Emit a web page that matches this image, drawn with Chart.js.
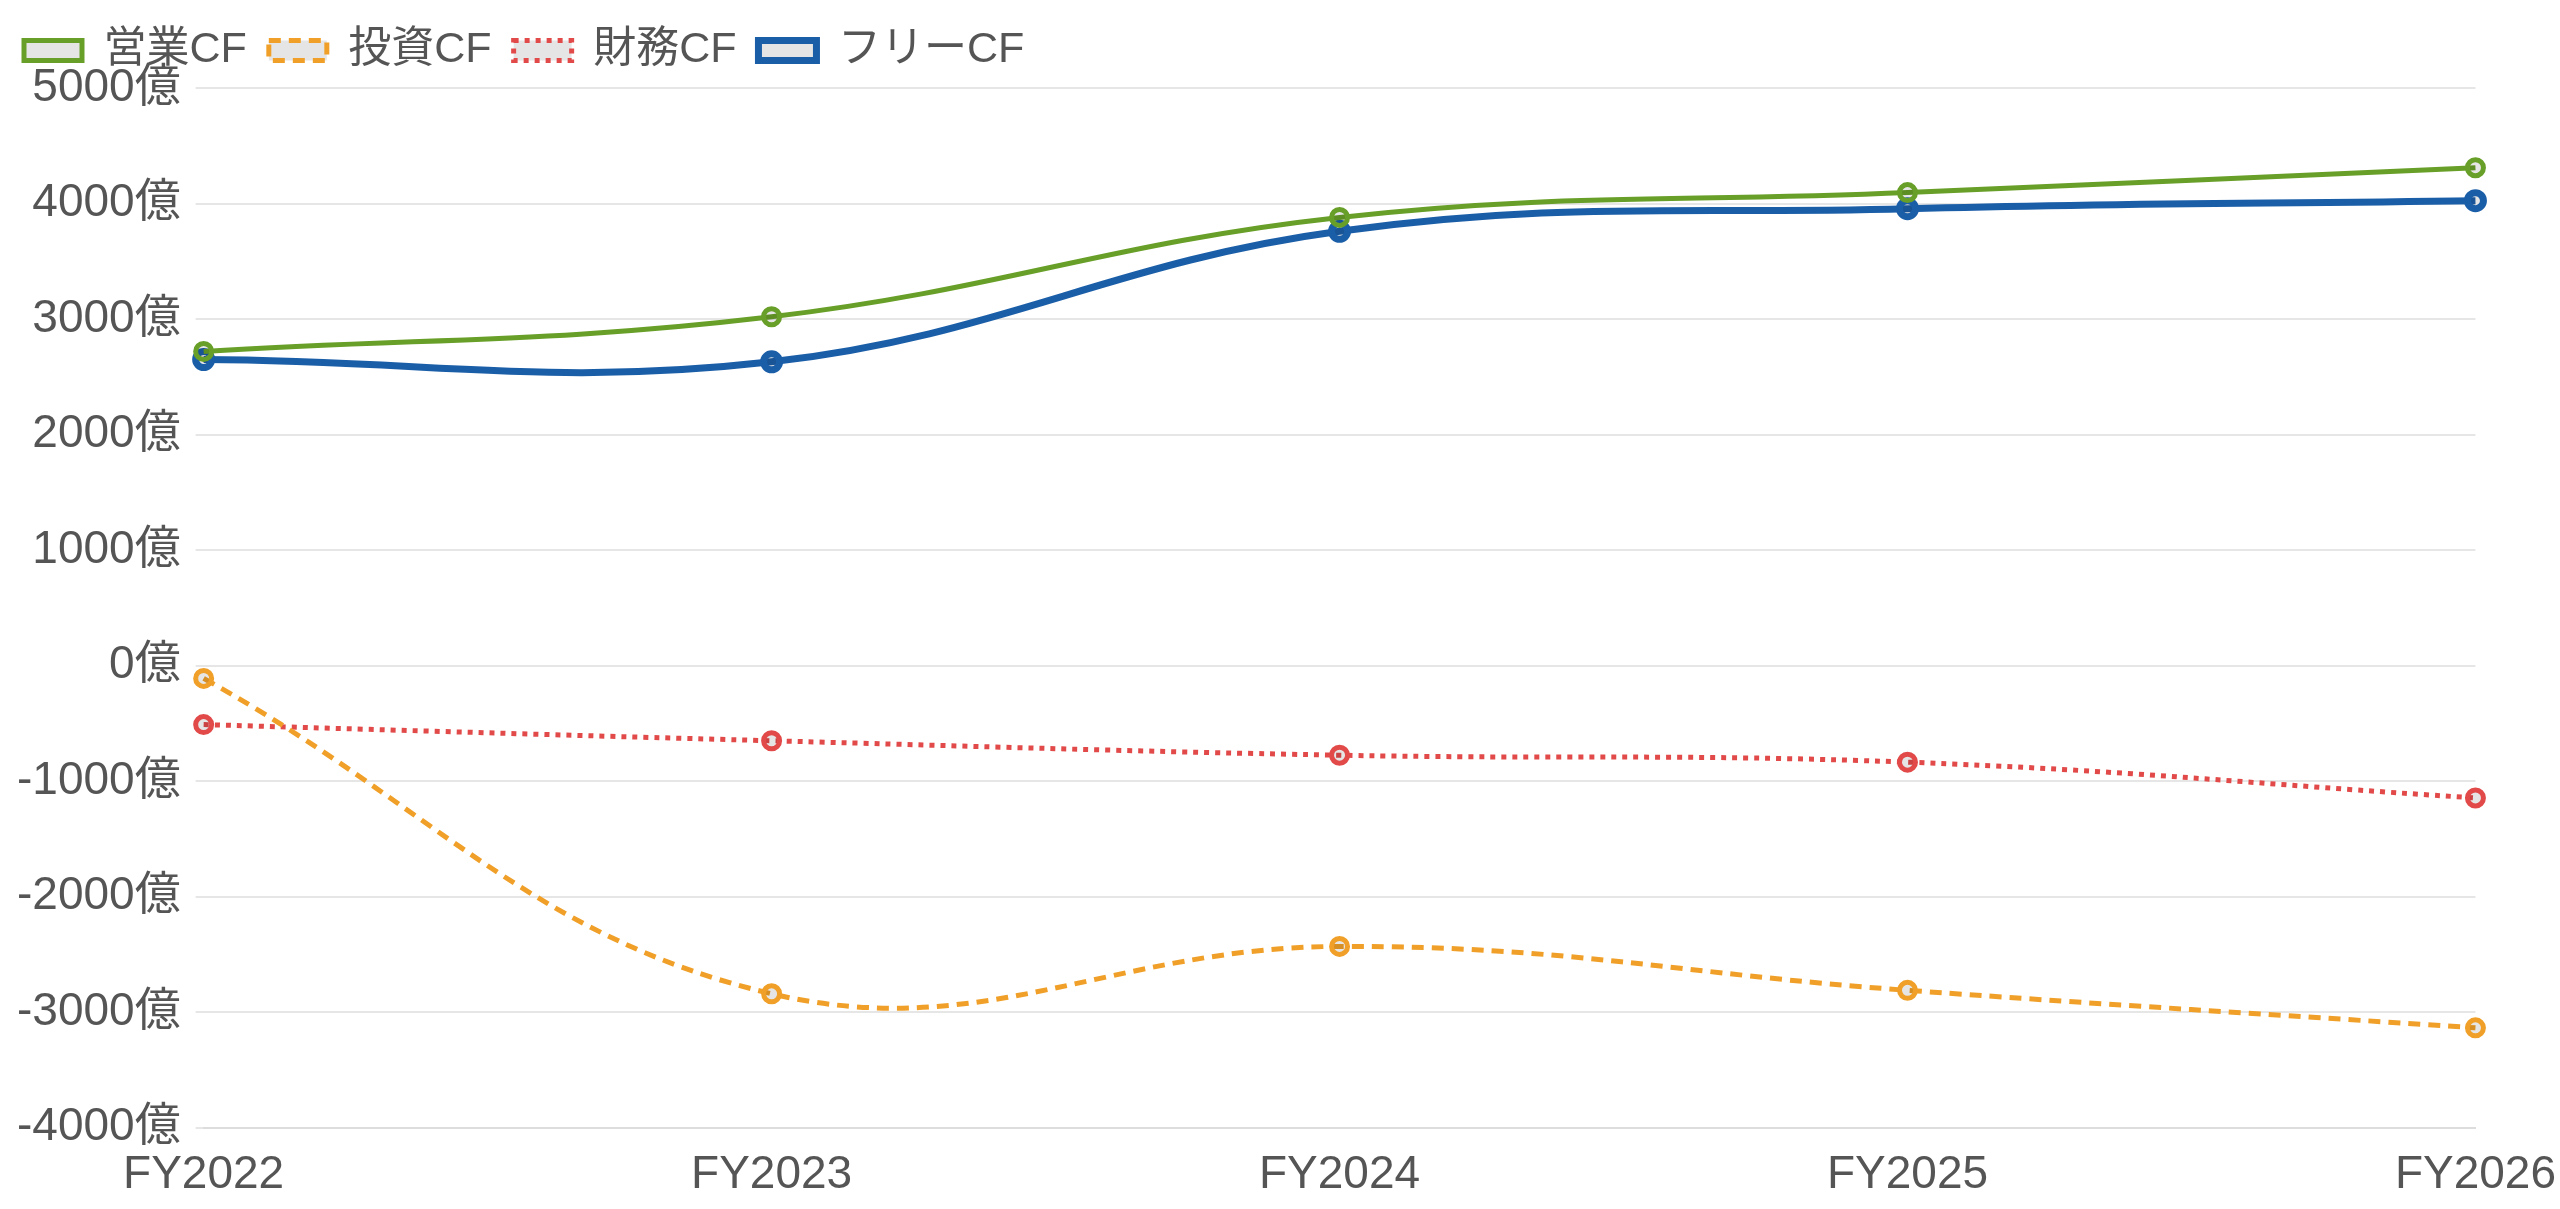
<!DOCTYPE html>
<html lang="ja">
<head>
<meta charset="utf-8">
<title>キャッシュフロー推移</title>
<script src="https://cdn.jsdelivr.net/npm/chart.js@4.4.1/dist/chart.umd.min.js"></script>
<style>
  html, body { margin: 0; padding: 0; background: #fff; }
  #wrap { width: 2560px; height: 1209px; position: relative; }
</style>
</head>
<body>
<div id="wrap"><canvas id="cfChart"></canvas></div>
<script>
// data (単位: 億円)
const years = ["FY2022", "FY2023", "FY2024", "FY2025", "FY2026"];
const operatingCF = [2720, 3020, 3880, 4095, 4310];
const investingCF = [-110, -2840, -2430, -2810, -3135];
const financingCF = [-510, -650, -775, -835, -1145];
const freeCF = [2650, 2630, 3760, 3955, 4025];
const yTicks = { min: -4000, max: 5000, step: 1000 };

const fontFamily = "'Helvetica Neue', Arial, 'Liberation Sans', 'Noto Sans CJK JP', sans-serif";
Chart.defaults.font.family = fontFamily;
Chart.defaults.font.size = 46;
Chart.defaults.color = "#555";

// a bit more room under the legend
const legendGap = {
  id: "legendGap",
  beforeInit(chart) {
    const origFit = chart.legend.fit;
    chart.legend.fit = function fit() {
      origFit.bind(chart.legend)();
      this.height += 6;
    };
  },
};

const ctx = document.getElementById("cfChart").getContext("2d");

new Chart(ctx, {
  type: "line",
  data: {
    labels: years,
    datasets: [
      {
        label: "営業CF",
        data: operatingCF,
        borderColor: "#689f28",
        borderWidth: 5,
        tension: 0.4,
        pointRadius: 8,
      },
      {
        label: "投資CF",
        data: investingCF,
        borderColor: "#f0a028",
        borderWidth: 5,
        borderDash: [12, 8],
        tension: 0.4,
        pointRadius: 8,
      },
      {
        label: "財務CF",
        data: financingCF,
        borderColor: "#e24a4a",
        borderWidth: 5,
        borderDash: [5, 6],
        tension: 0.4,
        pointRadius: 8,
      },
      {
        label: "フリーCF",
        data: freeCF,
        borderColor: "#1b5ea8",
        borderWidth: 7,
        tension: 0.4,
        pointRadius: 8,
      },
    ],
  },
  options: {
    responsive: true,
    maintainAspectRatio: false,
    animation: false,
    layout: { padding: { left: 2, right: 4, top: 7, bottom: 2 } },
    plugins: {
      legend: {
        position: "top",
        align: "start",
        labels: {
          boxWidth: 58,
          boxHeight: 20,
          padding: 22,
          color: "#555",
          font: { size: 43 },
        },
      },
      tooltip: { enabled: false },
    },
    scales: {
      x: {
        offset: false,
        grid: { display: false, tickLength: 16 },
        border: { color: "#ddd", width: 2 },
        ticks: { color: "#555", font: { size: 46 }, maxRotation: 0, padding: 4 },
      },
      y: {
        min: yTicks.min,
        max: yTicks.max,
        ticks: {
          stepSize: yTicks.step,
          color: "#555",
          font: { size: 46 },
          padding: 15,
          callback: (v) => v + "億",
        },
        grid: { color: "#e6e6e6", lineWidth: 2 },
        border: { display: false },
      },
    },
  },
  plugins: [legendGap],
});
</script>
</body>
</html>
